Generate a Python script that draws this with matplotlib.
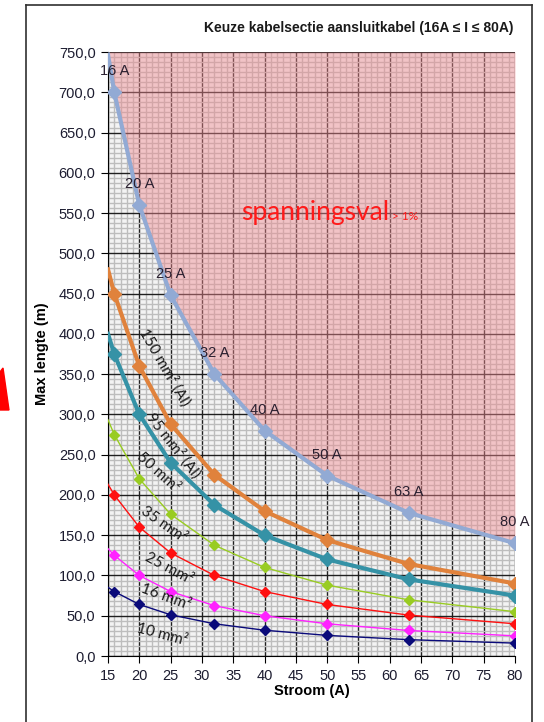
import matplotlib.pyplot as plt
from matplotlib.ticker import MultipleLocator, FuncFormatter
from matplotlib.patches import Polygon
from matplotlib.lines import Line2D

# stroom (A) en max lengte (m) per kabel
stroom = [15, 16, 20, 25, 32, 40, 50, 63, 80]
grens_1pct = [746.7, 700, 560, 448, 350, 280, 224, 177.8, 140]
al150 = [480, 450, 360, 288, 225, 180, 144, 114.3, 90]
al95 = [400, 375, 300, 240, 187.5, 150, 120, 95.2, 75]
cu50 = [293.3, 275, 220, 176, 137.5, 110, 88, 69.8, 55]
cu35 = [213.3, 200, 160, 128, 100, 80, 64, 50.8, 40]
cu25 = [133.3, 125, 100, 80, 62.5, 50, 40, 31.7, 25]
cu10 = [85.3, 80, 64, 51.2, 40, 32, 25.6, 20.3, 16]

punt_labels = ["16 A", "20 A", "25 A", "32 A", "40 A", "50 A", "63 A", "80 A"]

# label, x, y, hoek
kabel_labels = [
    ("150 mm² (Al)", 24.1, 359, -60),
    ("95 mm² (Al)", 25.4, 262, -52),
    ("50 mm²", 23.0, 228, -42),
    ("35 mm²", 23.9, 163, -35),
    ("25 mm²", 24.7, 109, -28),
    ("16 mm²", 24.3, 73, -20),
    ("10 mm²", 23.6, 26, -15),
]

plt.rcParams['font.family'] = ['Liberation Sans', 'DejaVu Sans']

fig = plt.figure(figsize=(5.44, 7.22), dpi=100)
ax = fig.add_axes([108/544, 1-656/722, 407/544, 604/722])
ax.set_facecolor('#f3f3f3')

ax.set_xlim(15, 80)
ax.set_ylim(0, 750)
ax.xaxis.set_major_locator(MultipleLocator(5))
ax.xaxis.set_minor_locator(MultipleLocator(1))
ax.yaxis.set_major_locator(MultipleLocator(50))
ax.yaxis.set_minor_locator(MultipleLocator(6.25))
ax.yaxis.set_major_formatter(FuncFormatter(lambda v, p: f"{v:.1f}".replace('.', ',')))
ax.grid(which='minor', color='#bdbdbd', lw=1.0, zorder=0)
ax.grid(which='major', color='#202020', lw=1.0, zorder=0)
ax.set_axisbelow(True)
ax.tick_params(which='minor', length=0)
ax.tick_params(which='major', direction='out', length=5, labelsize=10.5,
               labelcolor='#1c1c30', pad=4)
for s in ['top', 'right']:
    ax.spines[s].set_visible(False)
ax.spines['left'].set_color('black')
ax.spines['bottom'].set_color('black')

# zone spanningsval > 1%
ax.fill_between(stroom, grens_1pct, 750, color='#f08a90', alpha=0.45, lw=0, zorder=1)

mk = list(range(1, len(stroom)))
ax.plot(stroom, grens_1pct, color='#92aad4', lw=3, marker='D', ms=7, markevery=mk, zorder=5)
ax.plot(stroom, al150, color='#e0823c', lw=3, marker='D', ms=7, markevery=mk, zorder=4)
ax.plot(stroom, al95, color='#3592a6', lw=3, marker='D', ms=7, markevery=mk, zorder=4)
ax.plot(stroom, cu50, color='#99cc22', lw=1, marker='D', ms=5, markevery=mk, zorder=4)
ax.plot(stroom, cu35, color='#ff1010', lw=1, marker='D', ms=5, markevery=mk, zorder=4)
ax.plot(stroom, cu25, color='#ff22ff', lw=1, marker='D', ms=5, markevery=mk, zorder=4)
ax.plot(stroom, cu10, color='#0a0a7a', lw=1, marker='D', ms=5, markevery=mk, zorder=4)

for lab, x, y in zip(punt_labels, stroom[1:], grens_1pct[1:]):
    ax.text(x, y + 26, lab, ha='center', va='center', fontsize=10.5,
            color='#2a2030', zorder=6, clip_on=False)

for lab, x, y, hoek in kabel_labels:
    ax.text(x, y, lab, ha='center', va='center', rotation=hoek, fontsize=11,
            family=['Lato', 'DejaVu Sans'], color='#1a1a1a', zorder=6,
            rotation_mode='anchor')

ax.text(36.2, 541, "spanningsval", fontsize=19, color='#ff1a1a',
        family=['Lato', 'DejaVu Sans'], va='baseline', zorder=6)
ax.text(60.3, 541, "> 1%", fontsize=8.5, color='#ff1a1a',
        family=['Lato', 'DejaVu Sans'], va='baseline', zorder=6)

ax.set_xlabel("Stroom (A)", fontsize=10.5, fontweight='bold', labelpad=1)
ax.set_ylabel("Max lengte (m)", fontsize=10.5, fontweight='bold', labelpad=7)
fig.text(514/544, 1-28/722, "Keuze kabelsectie aansluitkabel (16A ≤ I ≤ 80A)",
         ha='right', va='center', fontsize=10, fontweight='bold', color='#1a1a1a')

# kader rond de grafiek + rode pijlpunt links
fig.add_artist(Line2D([26/544, 26/544], [0, 1-5/722], color='#303030', lw=1.2))
fig.add_artist(Line2D([26/544, 532/544], [1-5/722, 1-5/722], color='#303030', lw=1.2))
fig.add_artist(Line2D([532/544, 532/544], [0, 1-5/722], color='#303030', lw=1.2))
fig.add_artist(Polygon([[0, 1-372/722], [3/544, 1-368/722], [9/544, 1-410/722], [0, 1-410/722]],
                       closed=True, color='#ff0000', transform=fig.transFigure))

fig.savefig("out.png", dpi=100)
